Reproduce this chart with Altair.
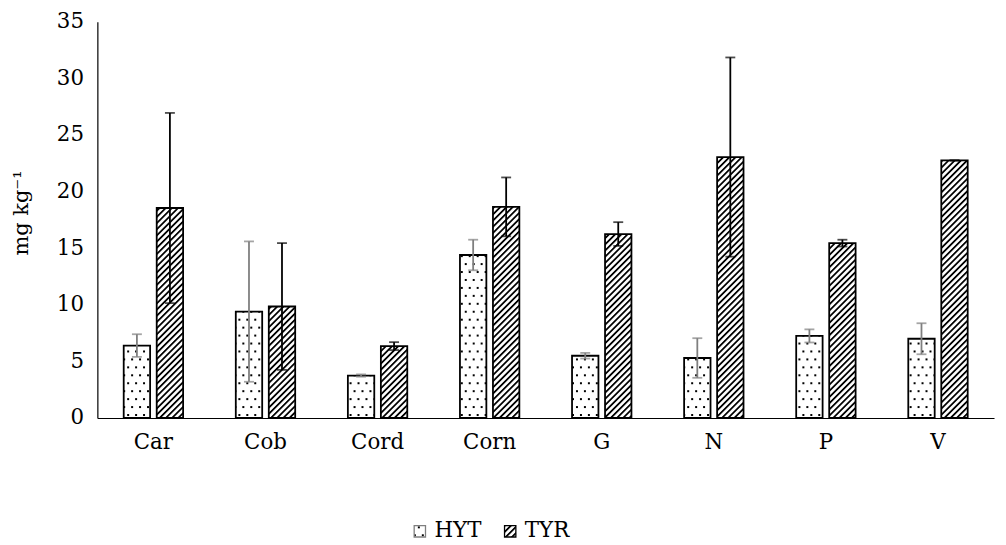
import altair as alt
import pandas as pd
import jinja2

categories = ["Car", "Cob", "Cord", "Corn", "G", "N", "P", "V"]
series = ["HYT", "TYR"]
hyt = [6.4, 9.4, 3.75, 14.4, 5.5, 5.3, 7.25, 7.0]
hyt_err = [1.0, 6.2, 0.1, 1.35, 0.25, 1.75, 0.58, 1.37]
tyr = [18.55, 9.85, 6.35, 18.65, 16.25, 23.05, 15.45, 22.75]
tyr_err = [8.4, 5.6, 0.35, 2.6, 1.05, 8.8, 0.3, 0.0]
y_ticks = [0, 5, 10, 15, 20, 25, 30, 35]

rows = []
for name, vals, errs in (("HYT", hyt, hyt_err), ("TYR", tyr, tyr_err)):
    for c, v, e in zip(categories, vals, errs):
        rows.append({"Category": c, "Series": name, "Value": v,
                     "Low": v - e, "High": v + e})
df = pd.DataFrame(rows)

FONT = "DejaVu Serif"

base = alt.Chart(df).encode(
    x=alt.X("Category:N", sort=categories,
            scale=alt.Scale(paddingInner=0.47, paddingOuter=0.235),
            axis=alt.Axis(title=None, labelAngle=0, ticks=False, domainColor="#000000",
                          domainWidth=1.2, labelFont=FONT, labelFontSize=21.5,
                          labelColor="#000000", labelPadding=14)),
    xOffset=alt.XOffset("Series:N", sort=series, scale=alt.Scale(paddingInner=0.2)),
)

bars = base.mark_bar(stroke="#000000", strokeWidth=1.8).encode(
    y=alt.Y("Value:Q", scale=alt.Scale(domain=[0, 35], nice=False),
            axis=alt.Axis(title="mg kg⁻¹", values=y_ticks, grid=False, ticks=False,
                          domainColor="#000000", domainWidth=1.2,
                          labelFont=FONT, labelFontSize=21.5, labelColor="#000000",
                          labelPadding=14, titleFont=FONT, titleFontSize=21,
                          titleFontWeight="normal", titleColor="#000000",
                          titleX=-66, titleY=192)),
    fill=alt.Fill("Series:N",
                  scale=alt.Scale(domain=series, range=["url(#dots)", "url(#hatch)"]),
                  legend=alt.Legend(title=None, orient="none", legendX=314, legendY=502,
                                    direction="horizontal", symbolType="square",
                                    symbolSize=130, symbolStrokeColor="#000000",
                                    symbolStrokeWidth=1.3, labelFont=FONT,
                                    labelFontSize=21.5, labelColor="#000000",
                                    labelOffset=4, columnPadding=18, padding=0)),
)

err_color = alt.Color("Series:N", scale=alt.Scale(domain=series, range=["#7f7f7f", "#000000"]),
                      legend=None)

rules = base.mark_rule(strokeWidth=1.8).encode(
    y=alt.Y("Low:Q"), y2="High:Q", color=err_color)
cap_hi = base.mark_tick(thickness=1.8, size=10).encode(y=alt.Y("High:Q"), color=err_color)
cap_lo = base.mark_tick(thickness=1.8, size=10).encode(y=alt.Y("Low:Q"), color=err_color)

chart = alt.layer(bars, rules, cap_hi, cap_lo).properties(
    width=903, height=399,
    autosize=alt.AutoSizeParams(type="none"),
    padding={"left": 90, "top": 12, "right": 4, "bottom": 125},
    background="#ffffff",
).configure_view(stroke=None)

TEMPLATE = jinja2.Template("""<!DOCTYPE html>
<html>
<head>
<meta charset="utf-8">
<style>
  body { overflow: hidden; }
  #vis.vega-embed { width: 100%; display: flex; }
</style>
<script type="text/javascript" src="{{ base_url }}/vega@{{ vega_version }}"></script>
<script type="text/javascript" src="{{ base_url }}/vega-lite@{{ vegalite_version }}"></script>
<script type="text/javascript" src="{{ base_url }}/vega-embed@{{ vegaembed_version }}"></script>
</head>
<body>
<svg width="0" height="0" style="position:absolute">
  <defs>
    <pattern id="dots" patternUnits="userSpaceOnUse" width="8" height="16">
      <rect width="8" height="16" fill="#ffffff"/>
      <rect x="2" y="3" width="2" height="2" fill="#000000"/>
      <rect x="6" y="11" width="2" height="2" fill="#000000"/>
    </pattern>
    <pattern id="hatch" patternUnits="userSpaceOnUse" width="4.4" height="4.4" patternTransform="rotate(45)">
      <rect width="4.4" height="4.4" fill="#ffffff"/>
      <rect x="0" y="0" width="1.8" height="4.4" fill="#000000"/>
    </pattern>
  </defs>
</svg>
<div id="vis"></div>
<script type="text/javascript">
  (function(vegaEmbed) {
    var spec = {{ spec }};
    var embedOpt = {{ embed_options }};
    vegaEmbed("#vis", spec, embedOpt).catch(function(err) {
      document.getElementById("vis").innerHTML = String(err);
    });
  })(vegaEmbed);
</script>
</body>
</html>
""")

chart.save("out.html", embed_options={"renderer": "svg", "actions": False}, template=TEMPLATE)
